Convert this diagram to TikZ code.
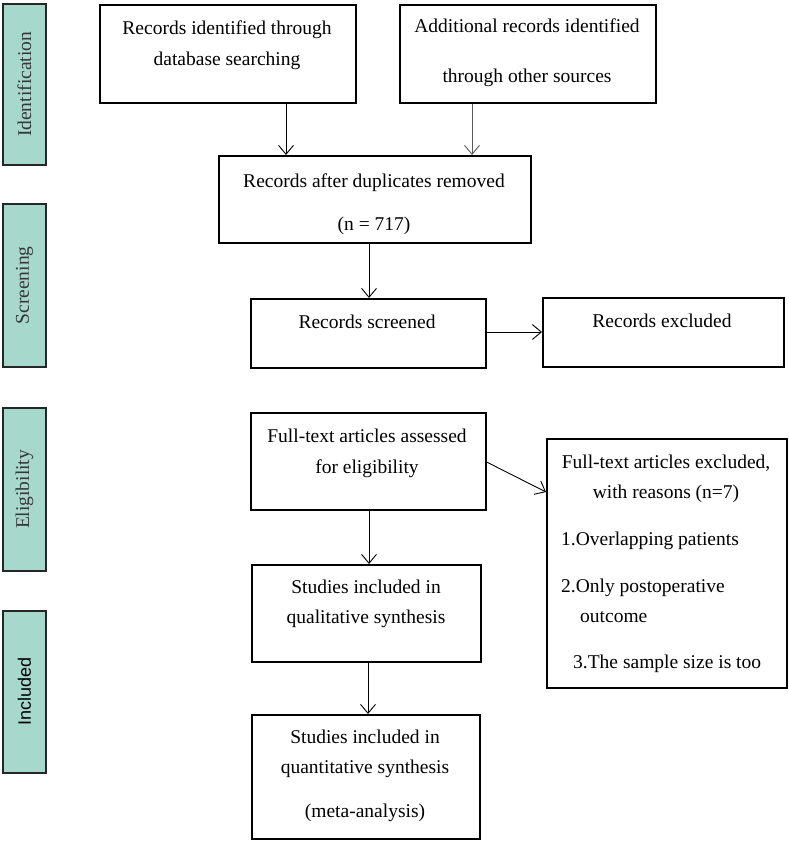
\documentclass[tikz,border=0pt]{standalone}
\usepackage{fontspec}
\setmainfont{Liberation Serif}
\newfontfamily\labsans{Liberation Sans}
\usetikzlibrary{arrows.meta}
\definecolor{sidefill}{RGB}{166,217,204}
\definecolor{sidetext}{RGB}{55,55,55}
\tikzset{
  box/.style={draw=black, line width=1.6pt, inner sep=0pt, anchor=north west},
  sidebox/.style={draw=black!85, fill=sidefill, line width=1.8pt, inner sep=0pt, anchor=north west},
  txt/.style={font=\fontsize{19.5}{23}\selectfont, anchor=base, inner sep=0pt},
  txtl/.style={txt, anchor=base west},
  sidetxt/.style={font=\fontsize{19.5}{23}\selectfont, text=sidetext, rotate=90, inner sep=0pt},
  arr/.style={line width=0.9pt, -{Straight Barb[length=9pt,width=15pt,line width=0.9pt]}},
}
\begin{document}
\begin{tikzpicture}[x=1pt,y=-1pt]
\useasboundingbox (0,0) rectangle (789,843);
% side boxes
\node[sidebox, minimum width=43pt, minimum height=161pt] (sid) at (2,3) {};
\node[sidebox, minimum width=43pt, minimum height=163pt] (sscr) at (2,203) {};
\node[sidebox, minimum width=43pt, minimum height=163pt] (selig) at (2,407) {};
\node[sidebox, minimum width=43pt, minimum height=162pt] (sinc) at (2,610) {};
\node[sidetxt] (tid) at (sid.center) {Identification};
\node[sidetxt] (tscr) at (sscr.center) {Screening};
\node[sidetxt] (telig) at (selig.center) {Eligibility};
\node[sidetxt, font=\labsans\fontsize{18}{21}\selectfont, text=black] (tinc) at (sinc.center) {Included};
% main boxes
\node[box, minimum width=256pt, minimum height=98pt] (b1) at (99,4) {};
\node[box, minimum width=256pt, minimum height=98pt] (b2) at (399,4) {};
\node[box, minimum width=312pt, minimum height=87pt] (b3) at (218,155) {};
\node[box, minimum width=235pt, minimum height=69pt] (b4) at (250,298) {};
\node[box, minimum width=241pt, minimum height=69pt] (b5) at (542,297) {};
\node[box, minimum width=235pt, minimum height=97pt] (b6) at (250,412) {};
\node[box, minimum width=240pt, minimum height=249pt] (b7) at (546,438) {};
\node[box, minimum width=229pt, minimum height=97pt] (b8) at (251,564) {};
\node[box, minimum width=228pt, minimum height=124pt] (b9) at (251,714) {};
% texts
\node[txt] (t1a) at (227,35) {Records identified through};
\node[txt] (t1b) at (227,66) {database searching};
\node[txt] (t2a) at (527,33) {Additional records identified};
\node[txt] (t2b) at (527,82) {through other sources};
\node[txt] (t3a) at (374,187) {Records after duplicates removed};
\node[txt] (t3b) at (374,230) {(n = 717)};
\node[txt] (t4) at (367,328) {Records screened};
\node[txt] (t5) at (662,327) {Records excluded};
\node[txt] (t6a) at (367,442) {Full-text articles assessed};
\node[txt] (t6b) at (367,473) {for eligibility};
\node[txt] (t7a) at (666,468) {Full-text articles excluded,};
\node[txt] (t7b) at (666,498) {with reasons (n=7)};
\node[txtl] (t7c) at (561,545) {1.Overlapping patients};
\node[txtl] (t7d) at (561,592) {2.Only postoperative};
\node[txtl] (t7e) at (580,622) {outcome};
\node[txtl] (t7f) at (573,668) {3.The sample size is too};
\node[txt] (t8a) at (366,593) {Studies included in};
\node[txt] (t8b) at (366,623) {qualitative synthesis};
\node[txt] (t9a) at (365,743) {Studies included in};
\node[txt] (t9b) at (365,773) {quantitative synthesis};
\node[txt] (t9c) at (365,817) {(meta-analysis)};
% connector guide coordinates
\coordinate (c1) at (286,0);
\coordinate (c2) at (472,0);
\coordinate (c3) at (369,0);
\coordinate (c4) at (0,332);
\coordinate (c5a) at (0,462);
\coordinate (c5b) at (0,492);
\coordinate (c6) at (368,0);
% connectors
\draw[arr] (b1.south -| c1) -- (b3.north -| c1);
\draw[arr, draw=black!65] (b2.south -| c2) -- (b3.north -| c2);
\draw[arr] (b3.south -| c3) -- (b4.north -| c3);
\draw[arr] (b4.east |- c4) -- (b5.west |- c4);
\draw[arr] (b6.east |- c5a) -- (b7.west |- c5b);
\draw[arr] (b6.south -| c3) -- (b8.north -| c3);
\draw[arr] (b8.south -| c6) -- (b9.north -| c6);
\end{tikzpicture}
\end{document}
